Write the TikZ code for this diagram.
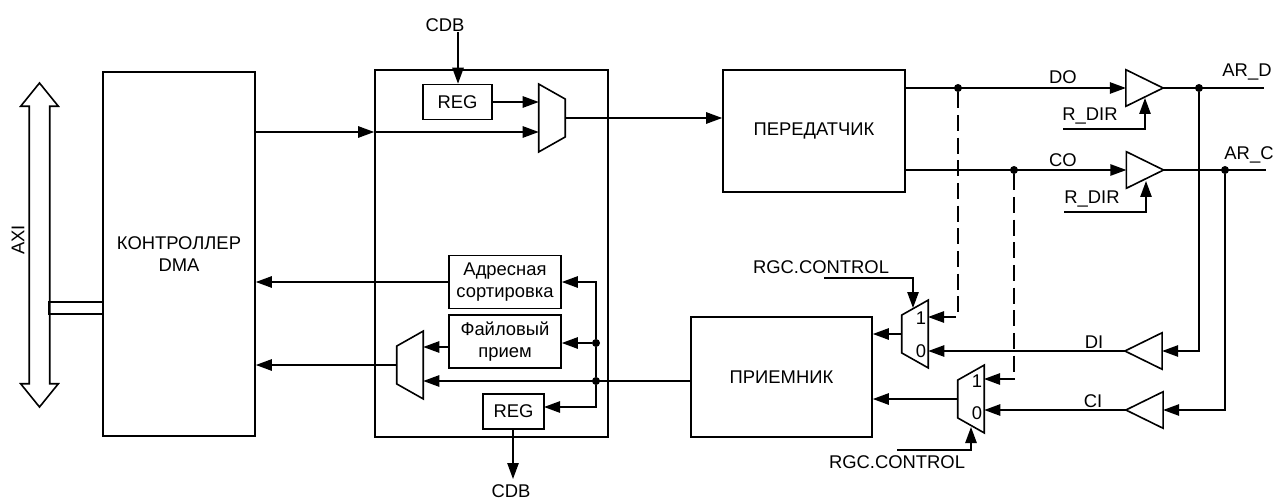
\documentclass[tikz,border=0pt]{standalone}
\usepackage{fontspec}
\setmainfont{Liberation Sans}
\usepackage{tikz}
\usetikzlibrary{shapes.arrows, arrows.meta, calc}
\definecolor{linecol}{RGB}{0,0,0}
\tikzset{
  sig/.style={draw=linecol, line width=1.2pt, -{Triangle[length=12pt,width=8.5pt]}},
  wire/.style={draw=linecol, line width=1.2pt},
  dashwire/.style={sig, dash pattern=on 12pt off 5pt},
  blockbox/.style={rectangle, draw=linecol, line width=1.2pt, align=center, inner sep=0pt},
  muxbox/.style={rectangle, inner sep=0pt, minimum width=19.5pt, minimum height=50.5pt},
  bufbox/.style={rectangle, inner sep=0pt, minimum width=27.5pt, minimum height=27pt},
  jdot/.style={circle, fill=linecol, inner sep=0pt, minimum size=6pt},
  lbl/.style={inner sep=0pt, align=center}
}
\begin{document}
\begin{tikzpicture}[x=0.75pt, y=-0.75pt, font=\fontsize{13.8}{16.5}\selectfont]
    \useasboundingbox (0,0) rectangle (1274,499);
    % blocks
    \foreach \n/\x/\y/\w/\h/\t in {
      dmabox/179/254/152/364/{КОНТРОЛЛЕР\\DMA},
      hubbox/491.5/253.5/233/367/{},
      txbox/814/131/182/122/{\raisebox{-5pt}{ПЕРЕДАТЧИК}},
      rxbox/781.5/377/181/120/{ПРИЕМНИК},
      regtop/457.5/102/69/35/{REG},
      regbot/513.5/411.5/61/35/{REG},
      addrbox/505/282/112/53/{Адресная\\сортировка},
      filebox/505/341.5/112/53/{Файловый\\прием},
      axitap/76/308/54/12/{}%
    }{
      \node[blockbox, minimum width=\w*0.75pt, minimum height=\h*0.75pt] (\n) at (\x,\y) {\t};
    }
    \node[shape=double arrow, draw=linecol, line width=1.2pt, rotate=90, inner xsep=0pt, inner ysep=7.1pt,
          minimum height=243pt, double arrow head extend=6.4pt,
          double arrow head indent=0pt, double arrow tip angle=78] (axibus) at (39.5,245) {};
    % multiplexers
    \foreach \n/\x/\y in {muxtx/552/118}{
      \node[muxbox] (\n) at (\x,\y) {};
      \draw[wire] (\n.north west) -- ($(\n.north east)+(0,15)$) -- ($(\n.south east)+(0,-15)$) -- (\n.south west) -- cycle;
    }
    \foreach \n/\x/\y in {muxrx/410/365, muxdi/915/334, muxci/971/399}{
      \node[muxbox] (\n) at (\x,\y) {};
      \draw[wire] (\n.north east) -- ($(\n.north west)+(0,15)$) -- ($(\n.south west)+(0,-15)$) -- (\n.south east) -- cycle;
    }
    % buffers
    \foreach \n/\x/\y in {bufd/1144.5/88, bufc/1145/170}{
      \node[bufbox] (\n) at (\x,\y) {};
      \draw[wire] (\n.north west) -- (\n.east) -- (\n.south west) -- cycle;
    }
    \foreach \n/\x/\y in {bufdi/1143.5/351, bufci/1144.5/410}{
      \node[bufbox] (\n) at (\x,\y) {};
      \draw[wire] (\n.north east) -- (\n.west) -- (\n.south east) -- cycle;
    }
    % junctions
    \foreach \n/\x/\y in {jfile/596/343, jrx/596/381, jdo/958/88, jco/1014/170, jard/1199/88, jarc/1225/170}{
      \node[jdot] (\n) at (\x,\y) {};
    }
    % labels
    \foreach \n/\x/\y/\t in {
      cdbtop/445/25/CDB, cdbbot/511/491/CDB,
      lbldo/1063/77/DO, lblco/1063/160/CO,
      lblard/1247/72/AR\_D, lblarc/1249/155/AR\_C,
      rdira/1090/116/R\_DIR, rdirb/1092/199/R\_DIR,
      lbldi/1094/342/DI, lblci/1093/401/CI,
      rgca/821/267/RGC.CONTROL, rgcb/897/462/RGC.CONTROL,
      onea/921/318/1, zeroa/921/351/0, oneb/977/381/1, zerob/977/413/0%
    }{
      \node[lbl] (\n) at (\x,\y) {\t};
    }
    \node[lbl, rotate=90] (axilbl) at (18,240) {AXI};
    % free ends
    \coordinate (dmaout) at (255,132);
    \coordinate (cdbin) at (458,32);
    \coordinate (filein) at (449,347);
    \coordinate (regin) at (544,407);
    \coordinate (cdbout) at (513,479);
    \coordinate (ardend) at (1264,88);
    \coordinate (arcend) at (1266,170);
    \coordinate (rdiraend) at (1063,129);
    \coordinate (rdirbend) at (1064,212);
    \coordinate (rdiratip) at (1145,98);
    \coordinate (rdirbtip) at (1146,181);
    \coordinate (rgcaend) at (824,278);
    \coordinate (rgcbend) at (897,450);
    \coordinate (rgcatip) at (913,308);
    \coordinate (rgcbtip) at (971,427);
    \coordinate (dasha) at (928,317);
    \coordinate (dashb) at (984,379);
    % left part
    \draw[sig] (dmaout) -- (dmaout -| hubbox.west);
    \draw[sig] (dmaout -| hubbox.west) -- (dmaout -| muxtx.west);
    \draw[sig] (cdbin) -- (cdbin |- regtop.north);
    \draw[sig] (regtop.east) -- (regtop.east -| muxtx.west);
    \draw[sig] (muxtx.east) -- (muxtx.east -| txbox.west);
    \draw[sig] (addrbox.west) -- (addrbox.west -| dmabox.east);
    \draw[sig] (muxrx.west) -- (muxrx.west -| dmabox.east);
    \draw[sig] (filein) -- (filein -| muxrx.east);
    \draw[sig] (jfile) |- (addrbox.east);
    \draw[sig] (jfile) -- (jfile -| filebox.east);
    \draw[wire] (jfile) -- (jrx);
    \draw[sig] (jrx) |- (regin);
    \draw[sig] (rxbox.west |- jrx) -- (jrx -| muxrx.east);
    \draw[sig] (regbot.south -| cdbout) -- (cdbout);
    % right part
    \draw[sig] (txbox.east |- jdo) -- (bufd.west);
    \draw[sig] (txbox.east |- jco) -- (bufc.west);
    \draw[wire] (bufd.east) -- (ardend);
    \draw[wire] (bufc.east) -- (arcend);
    \draw[sig] (rdiraend) -| (rdiratip);
    \draw[sig] (rdirbend) -| (rdirbtip);
    \draw[sig] (jard) |- (bufdi.east);
    \draw[sig] (jarc) |- (bufci.east);
    \draw[sig] (bufdi.west) -- (bufdi.west -| muxdi.east);
    \draw[sig] (bufci.west) -- (bufci.west -| muxci.east);
    \draw[dashwire] (jdo) |- (dasha);
    \draw[dashwire] (jco) |- (dashb);
    \draw[sig] (muxdi.west) -- (muxdi.west -| rxbox.east);
    \draw[sig] (muxci.west) -- (muxci.west -| rxbox.east);
    \draw[sig] (rgcaend) -| (rgcatip);
    \draw[sig] (rgcbend) -| (rgcbtip);
  \end{tikzpicture}
\end{document}
